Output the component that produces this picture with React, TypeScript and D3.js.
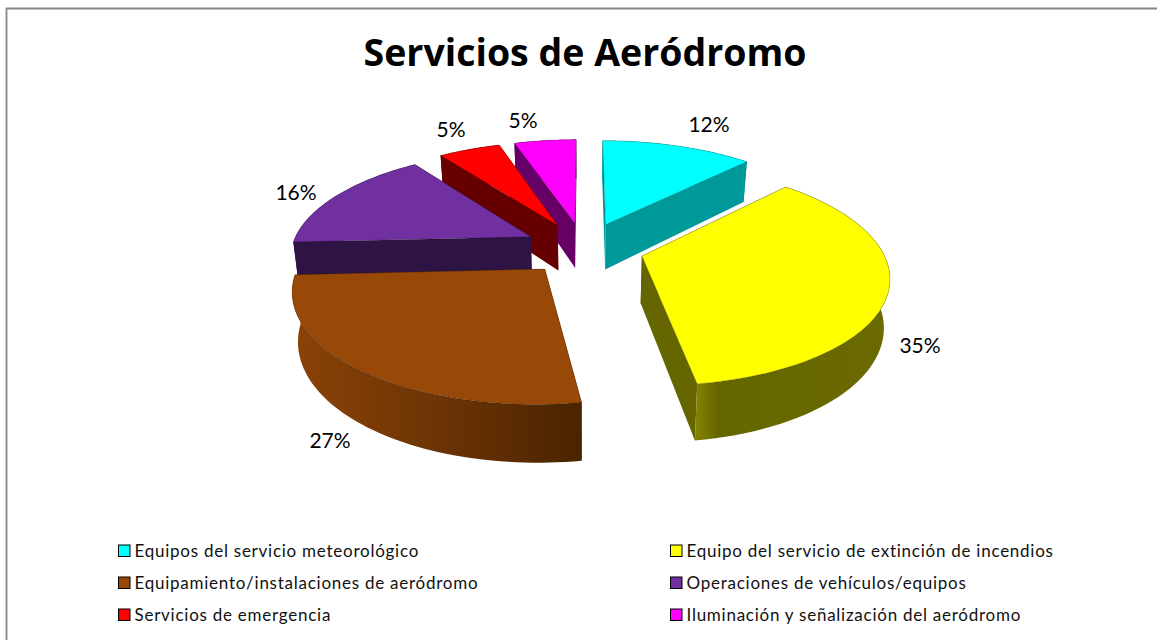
import React from 'react';
import * as d3 from 'd3';

const WIDTH = 1157;
const HEIGHT = 640;

const titleText = 'Servicios de Aeródromo';
const categories = [
  'Equipos del servicio meteorológico',
  'Equipo del servicio de extinción de incendios',
  'Equipamiento/instalaciones de aeródromo',
  'Operaciones de vehículos/equipos',
  'Servicios de emergencia',
  'Iluminación y señalización del aeródromo',
];
// the labels are rounded, the slices are a little finer than that
const shares = [12.2, 35.4, 26.6, 15.8, 5, 5];
const topColors = ['#00ffff', '#ffff00', '#984807', '#7030a0', '#ff0000', '#ff00ff'];
const wallColors = ['#009999', '#666600', '#6b3305', '#2e1445', '#660000', '#660066'];

// projection of the tilted pie, fitted by eye to the reference
const cx = 584;
const cy = 248;
const camera = 6;
const focalX = 1438;
const focalY = 630;
const wallDepth = 280;
const explode = 0.25;
const bottomShrink = 0.98;

const project = (u: number, v: number, bottom = false) => {
  const x = (focalX * u) / (camera + v);
  const y = (focalY * v) / (camera + v);
  const drop = bottom ? wallDepth / (camera + v) : 0;
  return [cx + x * (bottom ? bottomShrink : 1), cy - y + drop] as [number, number];
};

const pie = d3.pie<number>().sort(null).value((d) => d);
const line = d3.line();

const slices = pie(shares).map((arc, i) => {
  const mid = (arc.startAngle + arc.endAngle) / 2;
  const ou = explode * Math.sin(mid);
  const ov = explode * Math.cos(mid);
  const steps = d3.range(0, 61).map((k) => arc.startAngle + ((arc.endAngle - arc.startAngle) * k) / 60);
  const rim = steps.map((t) => ({ u: ou + Math.sin(t), v: ov + Math.cos(t) }));
  const top = rim.map((p) => project(p.u, p.v));
  const bottom = rim.map((p) => project(p.u, p.v, true));
  const apexTop = project(ou, ov);
  const apexBottom = project(ou, ov, true);
  return { i, top, bottom, apexTop, apexBottom };
});

// back to front, so nearer slices cover farther ones
const paintOrder = [5, 4, 0, 3, 1, 2];

const wallGradients: Record<number, [string, string][]> = {
  1: [['0', '#858500'], ['0.12', '#666600'], ['1', '#6a6a00']],
  2: [['0', '#8a4206'], ['0.55', '#693205'], ['1', '#4a2400']],
};

const legendColumns = [118.5, 670.5];
const legendRows = [551, 583, 615];

const labelText = (i: number) => `${Math.round(shares[i])}%`;
const labelSpots: [number, number][] = [
  [709, 125],
  [920, 346],
  [330, 441],
  [296, 193],
  [451, 130],
  [523, 121],
];

export default function App() {
  return (
    <svg
      width={WIDTH}
      height={HEIGHT}
      style={{ position: 'absolute', left: 0, top: 0, background: '#fff', fontFamily: 'Lato, sans-serif' }}
    >
      <defs>
        {slices.map((s) =>
          wallGradients[s.i] ? (
            <linearGradient
              key={s.i}
              id={`wall-${s.i}`}
              gradientUnits="userSpaceOnUse"
              x1={d3.min(s.bottom, (p) => p[0])}
              x2={d3.max(s.bottom, (p) => p[0])}
              y1={0}
              y2={0}
            >
              {wallGradients[s.i].map(([o, c]) => (
                <stop key={o} offset={o} stopColor={c} />
              ))}
            </linearGradient>
          ) : null,
        )}
      </defs>

      <path d="M6.5,640V8.5H1157" fill="none" stroke="#868686" strokeWidth={1.8} />

      <text x={585} y={66} textAnchor="middle" fontFamily="'Open Sans', sans-serif" fontWeight={700} fontSize={37.5} fill="#000">
        {titleText}
      </text>

      {paintOrder.map((idx) => {
        const s = slices[idx];
        const n = s.top.length - 1;
        const wallFill = wallColors[idx];
        return (
          <g key={idx}>
            <path d={line([s.apexTop, s.top[0], s.bottom[0], s.apexBottom])! + 'Z'} fill={wallFill} />
            <path d={line([s.apexTop, s.top[n], s.bottom[n], s.apexBottom])! + 'Z'} fill={wallFill} />
            <path
              d={line([...s.top, ...[...s.bottom].reverse()])! + 'Z'}
              fill={wallGradients[idx] ? `url(#wall-${idx})` : wallFill}
            />
            <path
              d={line([s.apexTop, ...s.top])! + 'Z'}
              fill={topColors[idx]}
              stroke="#000"
              strokeOpacity={0.35}
              strokeWidth={0.6}
            />
          </g>
        );
      })}

      {labelSpots.map(([x, y], i) => (
        <text key={i} x={x} y={y} dy="0.35em" textAnchor="middle" fontSize={21} fill="#000">
          {labelText(i)}
        </text>
      ))}

      {categories.map((name, i) => {
        const x = legendColumns[i % 2];
        const y = legendRows[Math.floor(i / 2)];
        return (
          <g key={name}>
            <rect x={x} y={y - 6} width={11.5} height={11.5} fill={topColors[i]} stroke="#000" strokeWidth={1} />
            <text x={x + 16} y={y} dy="0.35em" fontSize={17} letterSpacing={0.75} fill="#111">
              {name}
            </text>
          </g>
        );
      })}
    </svg>
  );
}
